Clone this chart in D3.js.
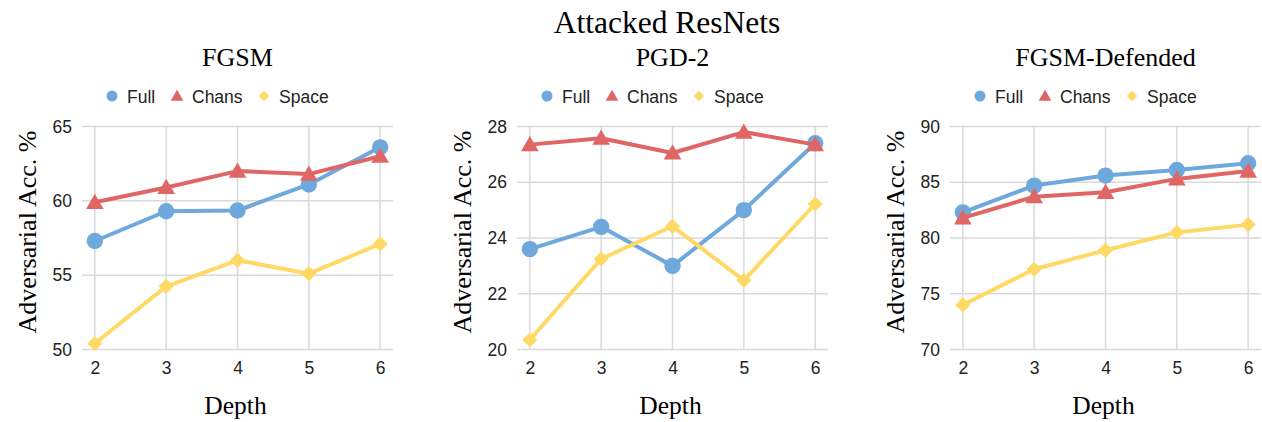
<!DOCTYPE html>
<html>
<head>
<meta charset="utf-8">
<script src="https://cdn.jsdelivr.net/npm/d3@7"></script>
<style>
  html, body { margin: 0; padding: 0; background: #fff; }
  svg { display: block; }
</style>
</head>
<body>
<svg id="chart" width="1262" height="422"></svg>
<script>
// Depths on the x axis
const depths = [2, 3, 4, 5, 6];
const seriesNames = ["Full", "Chans", "Space"];
const panelTitles = ["FGSM", "PGD-2", "FGSM-Defended"];

// Adversarial accuracy (%) per attack
const fgsmFull  = [57.3, 59.3, 59.35, 61.1, 63.6];
const fgsmChans = [59.9, 60.9, 62.0, 61.8, 63.0];
const fgsmSpace = [50.4, 54.25, 56.0, 55.1, 57.1];

const pgdFull  = [23.6, 24.4, 23.0, 25.0, 27.4];
const pgdChans = [27.35, 27.58, 27.05, 27.8, 27.35];
const pgdSpace = [20.35, 23.25, 24.42, 22.48, 25.22];

const defFull  = [82.3, 84.7, 85.6, 86.1, 86.7];
const defChans = [81.8, 83.7, 84.1, 85.3, 86.0];
const defSpace = [74.0, 77.2, 78.9, 80.5, 81.2];

// y-axis tick labels per panel
const fgsmTicks = [50, 55, 60, 65];
const pgdTicks = [20, 22, 24, 26, 28];
const defTicks = [70, 75, 80, 85, 90];

const panels = [
  { title: panelTitles[0], series: [fgsmFull, fgsmChans, fgsmSpace], ticks: fgsmTicks, left: 82 },
  { title: panelTitles[1], series: [pgdFull, pgdChans, pgdSpace], ticks: pgdTicks, left: 517 },
  { title: panelTitles[2], series: [defFull, defChans, defSpace], ticks: defTicks, left: 950 }
];

const colors = ["#6fa8dc", "#e06666", "#ffd966"];
// diamond = square turned 45 degrees
const symbols = [d3.symbolCircle, d3.symbolTriangle, d3.symbolSquare];
const rotations = [0, 0, 45];
const symbolSizes = [210, 135, 115];
const legendSizes = [95, 70, 55];

const serif = "'Liberation Serif', 'Times New Roman', serif";
const sans = "'Liberation Sans', Arial, sans-serif";

const svg = d3.select("#chart");
const plotW = 311, plotTop = 126.5, plotBottom = 349.5;

svg.append("text")
  .attr("x", 667).attr("y", 33)
  .attr("text-anchor", "middle")
  .style("font-family", serif).style("font-size", "31.5px").attr("fill", "#000")
  .text("Attacked ResNets");

panels.forEach((p, pi) => {
  const g = svg.append("g");
  const x = d3.scalePoint().domain(depths).range([p.left, p.left + plotW]).padding(0.18);
  const y = d3.scaleLinear()
    .domain([p.ticks[0], p.ticks[p.ticks.length - 1]])
    .range([plotBottom, plotTop]);

  const centerX = p.left + plotW / 2;

  // title
  g.append("text")
    .attr("x", centerX).attr("y", 66)
    .attr("text-anchor", "middle")
    .style("font-family", serif).style("font-size", "26px")
    .text(p.title);

  // legend
  const legend = g.append("g").attr("transform", `translate(${p.left + 30},96)`);
  const legendX = [0, 65, 152];
  seriesNames.forEach((name, si) => {
    legend.append("path")
      .attr("d", d3.symbol(symbols[si], legendSizes[si])())
      .attr("transform", `translate(${legendX[si]},${si === 1 ? 1 : 0}) rotate(${rotations[si]})`)
      .attr("fill", colors[si]);
    legend.append("text")
      .attr("x", legendX[si] + 15).attr("y", 6.5)
      .style("font-family", sans).style("font-size", "17.5px").attr("fill", "#222")
      .text(name);
  });

  // horizontal gridlines
  g.append("g").selectAll("line").data(p.ticks).join("line")
    .attr("x1", p.left).attr("x2", p.left + plotW)
    .attr("y1", d => y(d)).attr("y2", d => y(d))
    .attr("stroke", "#d9d9d9").attr("stroke-width", 1.5);

  // vertical gridlines
  g.append("g").selectAll("line").data(depths).join("line")
    .attr("x1", d => x(d)).attr("x2", d => x(d))
    .attr("y1", plotTop).attr("y2", plotBottom)
    .attr("stroke", "#d9d9d9").attr("stroke-width", 1.5);

  // y axis tick labels
  const yAxis = d3.axisLeft(y).tickValues(p.ticks).tickSize(0).tickPadding(10);
  const ya = g.append("g").attr("transform", `translate(${p.left},0)`).call(yAxis);
  ya.select(".domain").remove();
  ya.selectAll("text")
    .style("font-family", sans).style("font-size", "17.5px").attr("fill", "#222");

  // x axis tick labels
  const xAxis = d3.axisBottom(x).tickSize(0).tickPadding(12);
  const xa = g.append("g").attr("transform", `translate(0,${plotBottom})`).call(xAxis);
  xa.select(".domain").remove();
  xa.selectAll("text")
    .style("font-family", sans).style("font-size", "17.5px").attr("fill", "#222");

  // axis titles
  g.append("text")
    .attr("transform", `translate(${p.left - 46},${(plotTop + plotBottom) / 2 - 6}) rotate(-90)`)
    .attr("text-anchor", "middle")
    .style("font-family", serif).style("font-size", "26px")
    .text("Adversarial Acc. %");

  g.append("text")
    .attr("x", centerX - 2).attr("y", 414)
    .attr("text-anchor", "middle")
    .style("font-family", serif).style("font-size", "25.5px")
    .text("Depth");

  // series lines and markers
  const line = d3.line().x((d, i) => x(depths[i])).y(d => y(d));
  p.series.forEach((vals, si) => {
    const sg = g.append("g");
    sg.append("path")
      .datum(vals)
      .attr("d", line)
      .attr("fill", "none")
      .attr("stroke", colors[si])
      .attr("stroke-width", 4)
      .attr("stroke-linejoin", "round");
    sg.selectAll("path.pt").data(vals).join("path")
      .attr("class", "pt")
      .attr("d", d3.symbol(symbols[si], symbolSizes[si])())
      .attr("transform", (d, i) => `translate(${x(depths[i])},${y(d) + (si === 1 ? 1.5 : 0)}) rotate(${rotations[si]})`)
      .attr("fill", colors[si]);
  });
});
</script>
</body>
</html>
